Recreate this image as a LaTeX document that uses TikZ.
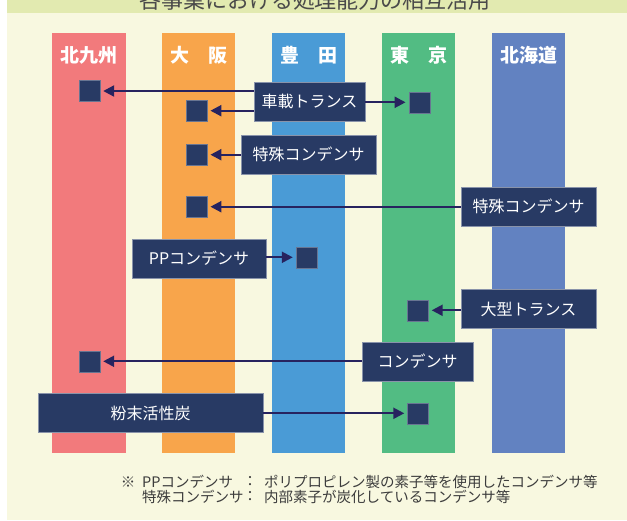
\documentclass[tikz,border=0pt]{standalone}
\usepackage{fontspec}
\setmainfont{Noto Sans CJK JP}
\newfontfamily\jp{Noto Sans CJK JP}
\usetikzlibrary{arrows.meta}
\definecolor{bgcream}{HTML}{F8F8E0}
\definecolor{band}{HTML}{E2EAB0}
\definecolor{colred}{HTML}{F27A7C}
\definecolor{colorange}{HTML}{F8A54B}
\definecolor{colblue}{HTML}{4A9BD6}
\definecolor{colgreen}{HTML}{52BC83}
\definecolor{colindigo}{HTML}{6282C1}
\definecolor{boxnavy}{HTML}{283A64}
\definecolor{arrownavy}{HTML}{27235F}
\definecolor{titlegray}{HTML}{4A4A4A}
\definecolor{footgray}{HTML}{3C3C3C}
\tikzset{
  colhead/.style={text=white, font=\jp\bfseries\fontsize{19}{19}\selectfont, inner sep=0pt},
  labelbox/.style={fill=boxnavy, draw=boxnavy!55!white, line width=0.6pt, text=white,
    font=\jp\fontsize{16}{16}\selectfont, inner sep=0pt, minimum height=39pt},
  sq/.style={fill=boxnavy, draw=boxnavy!70!white, line width=0.4pt, minimum size=21pt, inner sep=0pt},
  arr/.style={draw=arrownavy, line width=2.2pt, -{Triangle[length=11pt,width=11pt]}, shorten >=3pt},
  foot/.style={text=footgray, font=\jp\fontsize{14.5}{14.5}\selectfont, inner sep=0pt}
}
\begin{document}
\begin{tikzpicture}[x=1pt,y=-1pt]
\useasboundingbox (0,0) rectangle (627,520);
\clip (0,0) rectangle (627,520);
% background
\fill[white] (0,0) rectangle (627,520);
\fill[bgcream] (7,0) rectangle (627,520);
\fill[band] (7,0) rectangle (627,12.7);
\node[anchor=base, text=titlegray, font=\jp\fontsize{22}{22}\selectfont, inner sep=0pt] (title) at (315,8.5) {各事業における処理能力の相互活用};
% columns
\fill[colred]    (52.3,33.3) rectangle (125.7,453.3);
\fill[colorange] (162.3,33.3) rectangle (235.3,453.3);
\fill[colblue]   (272.3,33.3) rectangle (345.3,453.3);
\fill[colgreen]  (382.3,33.3) rectangle (455.3,453.3);
\fill[colindigo] (492.3,33.3) rectangle (565.3,453.3);
% headers
\node[colhead] (hk) at (89,55) {北九州};
\node[colhead] (ho) at (199,55) {大　阪};
\node[colhead] (ht) at (309,55) {豊　田};
\node[colhead] (hto) at (419,55) {東　京};
\node[colhead] (hh) at (529,55) {北海道};
% squares
\node[sq] (k1) at (89.5,91) {};
\node[sq] (o1) at (196.7,110.7) {};
\node[sq] (t1) at (419.3,102.3) {};
\node[sq] (o2) at (196.7,154.7) {};
\node[sq] (o3) at (196.7,206.7) {};
\node[sq] (b1) at (306.5,257.3) {};
\node[sq] (t2) at (418,310.3) {};
\node[sq] (k2) at (89.5,361.3) {};
\node[sq] (t3) at (418,413.3) {};
% label boxes
\node[labelbox, minimum width=111pt] (car) at (309.5,101.5) {車載トランス};
\node[labelbox, minimum width=135pt] (tok1) at (308.5,154.5) {特殊コンデンサ};
\node[labelbox, minimum width=135pt] (tok2) at (528.5,206.5) {特殊コンデンサ};
\node[labelbox, minimum width=134pt] (pp) at (199,258.5) {PPコンデンサ};
\node[labelbox, minimum width=135pt] (big) at (528.5,309) {大型トランス};
\node[labelbox, minimum width=111pt] (cond) at (417.5,361.5) {コンデンサ};
\node[labelbox, minimum width=225pt] (powder) at (150.5,413) {粉末活性炭};
% arrows
\draw[arr] (car.west |- k1) -- (k1.east);
\draw[arr] (car.west |- o1) -- (o1.east);
\draw[arr] (car.east |- t1) -- (t1.west);
\draw[arr] (tok1.west |- o2) -- (o2.east);
\draw[arr] (tok2.west |- o3) -- (o3.east);
\draw[arr] (pp.east |- b1) -- (b1.west);
\draw[arr] (big.west |- t2) -- (t2.east);
\draw[arr] (cond.west |- k2) -- (k2.east);
\draw[arr] (powder.east |- t3) -- (t3.west);
% footnote
\node[foot] (fmark) at (128,481.7) {※};
\node[foot, anchor=west] (f1a) at (142,481.7) {PPコンデンサ};
\node[foot] (f1c) at (250,481.7) {：};
\node[foot, anchor=west] (f1b) at (264,481.7) {ポリプロピレン製の素子等を使用したコンデンサ等};
\node[foot, anchor=west] (f2a) at (142,496.7) {特殊コンデンサ};
\node[foot] (f2c) at (250,496.7) {：};
\node[foot, anchor=west] (f2b) at (264,496.7) {内部素子が炭化しているコンデンサ等};
\end{tikzpicture}
\end{document}
